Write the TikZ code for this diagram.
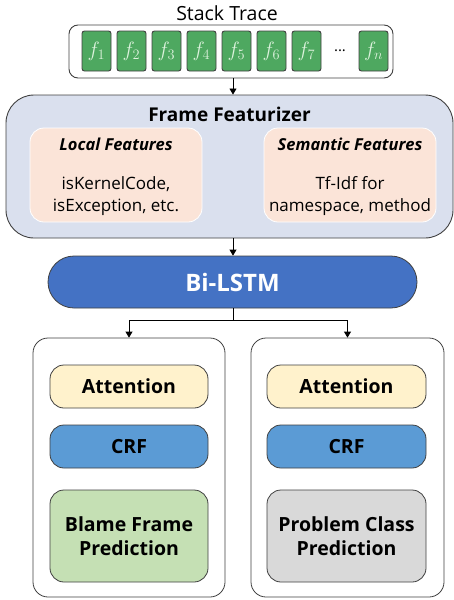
\documentclass[tikz,border=0pt]{standalone}
\usepackage{fontspec}
\setmainfont{Open Sans}
\usetikzlibrary{arrows.meta,shapes.misc}
\definecolor{fgreen}{HTML}{4EA860}
\definecolor{ftext}{HTML}{DDF2DD}
\definecolor{featbg}{HTML}{DAE0EE}
\definecolor{peach}{HTML}{FBE4D8}
\definecolor{lstm}{HTML}{4472C4}
\definecolor{attn}{HTML}{FFF2CC}
\definecolor{crf}{HTML}{5B9BD5}
\definecolor{blame}{HTML}{C5E0B4}
\definecolor{prob}{HTML}{D9D9D9}
\definecolor{edge}{HTML}{404040}
\tikzset{
  x=1pt,y=-1pt,
  fbox/.style={draw=edge,line width=0.9pt,fill=fgreen,rounded corners=2.5pt,minimum width=29pt,minimum height=40pt,inner sep=0pt,text=ftext,font=\fontsize{21}{21}\selectfont},
  inbox/.style={draw=white,line width=0.8pt,fill=peach,rounded corners=14pt},
  pill/.style={draw=edge,line width=0.8pt,rounded corners=14pt,minimum width=158pt,minimum height=43pt,inner sep=0pt,font=\bfseries\fontsize{19.5}{24}\selectfont,align=center},
  arr/.style={-{Triangle[length=6pt,width=7pt]},line width=0.8pt,black},
  outer/.style={draw=edge,line width=0.8pt,rounded corners=15pt,fill=white}
}
\begin{document}
\begin{tikzpicture}
\useasboundingbox (0,0) rectangle (454,600);
% stack trace
\node (st) at (227,13) {\fontsize{19.5}{19.5}\selectfont Stack Trace};
\draw[draw=edge,line width=0.9pt,rounded corners=9pt] (69,25) rectangle (393,78);
\coordinate (stb) at (233,78);
\foreach \i/\x in {1/96.5,2/131.5,3/166.5,4/201.5,5/236.5,6/271.5,7/306.5}{
  \node[fbox] (f\i) at (\x,51) {$f_{\i}$};
}
\node (dots) at (340,51) {\fontsize{15}{15}\selectfont ...};
\node[fbox] (fn) at (373.5,51) {$f_n$};
% featurizer
\node[draw=edge,line width=0.9pt,fill=featbg,rounded corners=28pt,minimum width=447pt,minimum height=143pt,inner sep=0pt] (feat) at (229.5,166.5) {};
\draw[arr] (stb) -- (feat.north -| stb);
\node[font=\bfseries\fontsize{19}{19}\selectfont] (ft) at (229.5,114) {Frame Featurizer};
\node[inbox,minimum width=172pt,minimum height=94pt] (loc) at (116,175) {};
\node[inbox,minimum width=172pt,minimum height=94pt] (sem) at (350,175) {};
\node[font=\bfseries\itshape\fontsize{16.5}{16.5}\selectfont] (lt) at (116,144) {Local Features};
\node[font=\bfseries\itshape\fontsize{16.5}{16.5}\selectfont] (stt) at (350,144) {Semantic Features};
\node[align=center,font=\fontsize{17}{22}\selectfont] (lb) at (116,196) {isKernelCode,\\isException, etc.};
\node[align=center,font=\fontsize{17}{22}\selectfont] (sb) at (350,196) {Tf-Idf for\\namespace, method};
% bi-lstm
\node[draw=edge,line width=0.8pt,fill=lstm,rounded rectangle,minimum width=369pt,minimum height=52pt,inner sep=0pt,text=white,font=\bfseries\fontsize{24}{24}\selectfont] (lstm) at (232.5,282) {Bi-LSTM};
\draw[arr] (feat.south -| stb) -- (lstm.north -| stb);
% outer boxes
\node[outer,minimum width=192pt,minimum height=259pt,inner sep=0pt] (lbox) at (129,467.5) {};
\node[outer,minimum width=193pt,minimum height=259pt,inner sep=0pt] (rbox) at (347.5,467.5) {};
\coordinate (split) at (233,320);
\draw[line width=0.8pt] (lstm.south -| split) -- (split);
\draw[arr] (split) -| (lbox.north);
\draw[arr] (split) -| (rbox.north);
% left column
\node[pill,fill=attn] (la) at (129,386.5) {Attention};
\node[pill,fill=crf] (lc) at (129,446.5) {CRF};
\node[pill,fill=blame,minimum height=92pt] (lp) at (129,536) {Blame Frame\\Prediction};
% right column
\node[pill,fill=attn,minimum width=159pt] (ra) at (346.5,386.5) {Attention};
\node[pill,fill=crf,minimum width=159pt] (rc) at (346.5,446.5) {CRF};
\node[pill,fill=prob,minimum width=159pt,minimum height=92pt] (rp) at (346.5,536) {Problem Class\\Prediction};
\end{tikzpicture}
\end{document}
